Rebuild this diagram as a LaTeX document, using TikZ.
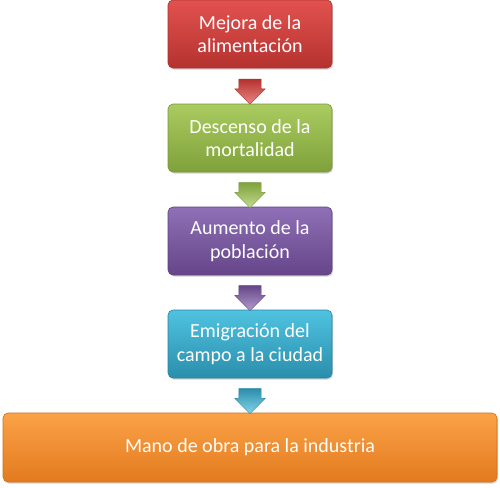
\documentclass[tikz,border=0pt]{standalone}
\usepackage{fontspec}
\setmainfont{Carlito}
\usetikzlibrary{shapes.arrows,shadows}
\definecolor{redT}{HTML}{E2524F}
\definecolor{redB}{HTML}{B5322F}
\definecolor{redD}{HTML}{A8302D}
\definecolor{grnT}{HTML}{AACB5F}
\definecolor{grnB}{HTML}{7FA13B}
\definecolor{grnD}{HTML}{76963A}
\definecolor{purT}{HTML}{8F6FB6}
\definecolor{purB}{HTML}{664689}
\definecolor{purD}{HTML}{5E4280}
\definecolor{cyaT}{HTML}{4FC3E1}
\definecolor{cyaB}{HTML}{2A8EAB}
\definecolor{cyaD}{HTML}{27839F}
\definecolor{oraT}{HTML}{FBA247}
\definecolor{oraB}{HTML}{E37A1E}
\definecolor{oraD}{HTML}{D0701C}
\tikzset{
  box/.style={rectangle, rounded corners=5pt, minimum width=164pt, minimum height=68pt,
    align=center, text=white, font=\fontsize{20}{23.5}\selectfont, line width=0.6pt,
    drop shadow={shadow xshift=1pt, shadow yshift=-1.5pt, opacity=0.35}},
  blockarrow/.style={single arrow, rotate=-90, minimum height=25pt, minimum width=30pt,
    inner xsep=0pt, inner ysep=11pt, single arrow head extend=4pt, line width=0.4pt}
}
\begin{document}
\begin{tikzpicture}[x=1pt,y=-1pt]
\useasboundingbox (0,0) rectangle (500,487);
\node[box, top color=redT, bottom color=redB, draw=redD] (a) at (250,34) {Mejora de la\\alimentación};
\node[box, top color=grnT, bottom color=grnB, draw=grnD] (b) at (250,138) {Descenso de la\\mortalidad};
\node[box, top color=purT, bottom color=purB, draw=purD] (c) at (250,241) {Aumento de la\\población};
\node[box, top color=cyaT, bottom color=cyaB, draw=cyaD] (d) at (250,344) {Emigración del\\campo a la ciudad};
\node[box, minimum width=494pt, minimum height=69pt, top color=oraT, bottom color=oraB, draw=oraD] (e) at (250,447.5) {Mano de obra para la industria};
\path (a.south) -- (b.north) node[midway, blockarrow, top color=redB, bottom color=redT!70!white, draw=redD] (ab) {};
\path (b.south) -- (c.north) node[midway, blockarrow, top color=grnB, bottom color=grnT!70!white, draw=grnD] (bc) {};
\path (c.south) -- (d.north) node[midway, blockarrow, top color=purB, bottom color=purT!70!white, draw=purD] (cd) {};
\path (d.south) -- (e.north) node[midway, blockarrow, top color=cyaB, bottom color=cyaT!70!white, draw=cyaD] (de) {};
\end{tikzpicture}
\end{document}
